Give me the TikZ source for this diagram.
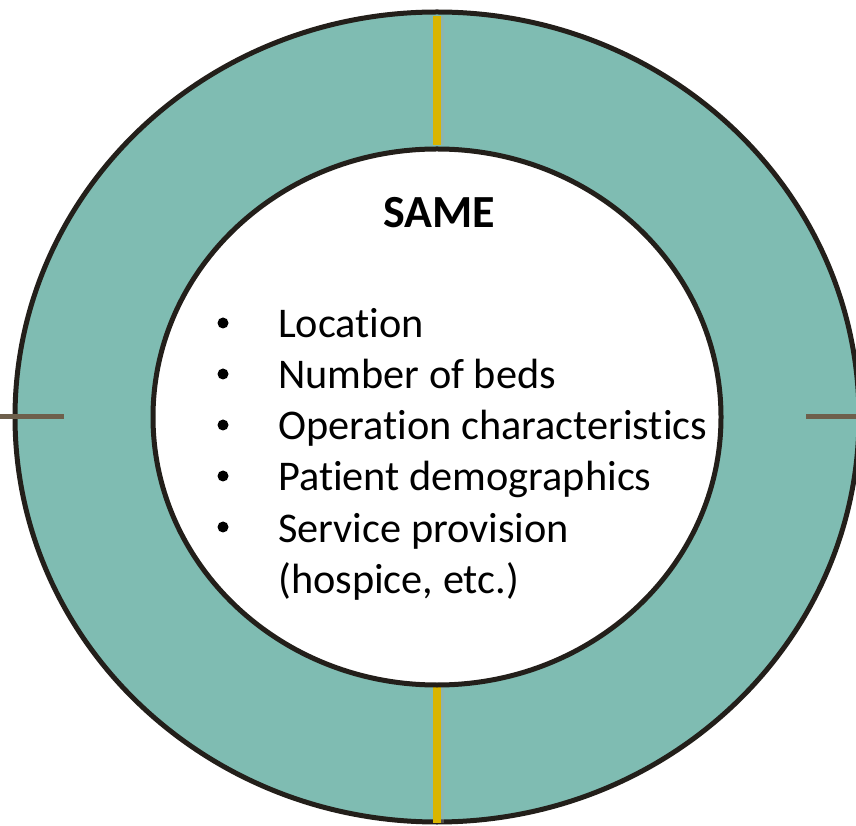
\documentclass[tikz,border=0pt]{standalone}
\usepackage{fontspec}
\setmainfont[Ligatures={NoCommon}]{Carlito}
\usepackage{tikz}
\usetikzlibrary{positioning}
\definecolor{ringteal}{RGB}{127,188,178}
\definecolor{ringedge}{RGB}{35,31,26}
\definecolor{splitgold}{RGB}{217,181,0}
\definecolor{tickgrey}{RGB}{110,96,76}

\tikzset{
	ringline/.style={draw=ringedge,line width=5pt},
	goldbar/.style={splitgold,line width=8pt},
	greytick/.style={tickgrey,line width=5pt},
	itemtext/.style={anchor=base west,inner sep=0pt,font=\fontsize{42.3}{51}\selectfont},
	dot/.style={circle,fill=black,inner sep=0pt,minimum size=11pt}
}

\begin{document}
\begin{tikzpicture}[x=1pt,y=1pt]
		\useasboundingbox (0,0) rectangle (856,825);
		\coordinate (c) at (437,408);
		% rings
		\draw[ringline,fill=ringteal] (c) ellipse [x radius=422,y radius=405];
		% gold dividers with a soft shadow
		\draw[black!35,opacity=0.35,line width=8pt] (440,809) -- (440,680);
		\draw[black!35,opacity=0.35,line width=8pt] (440,138) -- (440,2);
		\draw[goldbar] (437,809) -- (437,680);
		\draw[goldbar] (437,138) -- (437,2);
		\draw[ringline,fill=white] (c) ellipse [x radius=284,y radius=268];
		% side ticks
		\draw[greytick] (0,408) -- (64,408);
		\draw[greytick] (806,408) -- (856,408);
		% text
		\node[anchor=base,inner sep=0pt,font=\fontsize{46}{55}\bfseries] (same) at (439,597) {SAME};
		\foreach \y/\txt/\n in {487/Location/1,436/Number of beds/2,385/Operation characteristics/3,334/Patient demographics/4,283/Service provision/5}
		{
			\node[itemtext] (item\n) at (278,\y) {\txt};
			\node[dot] (dot\n) at (223,\y+15) {};
		}
		\node[itemtext] (item6) at ([yshift=-51pt]item5.base west) {(hospice, etc.)};
\end{tikzpicture}
\end{document}
